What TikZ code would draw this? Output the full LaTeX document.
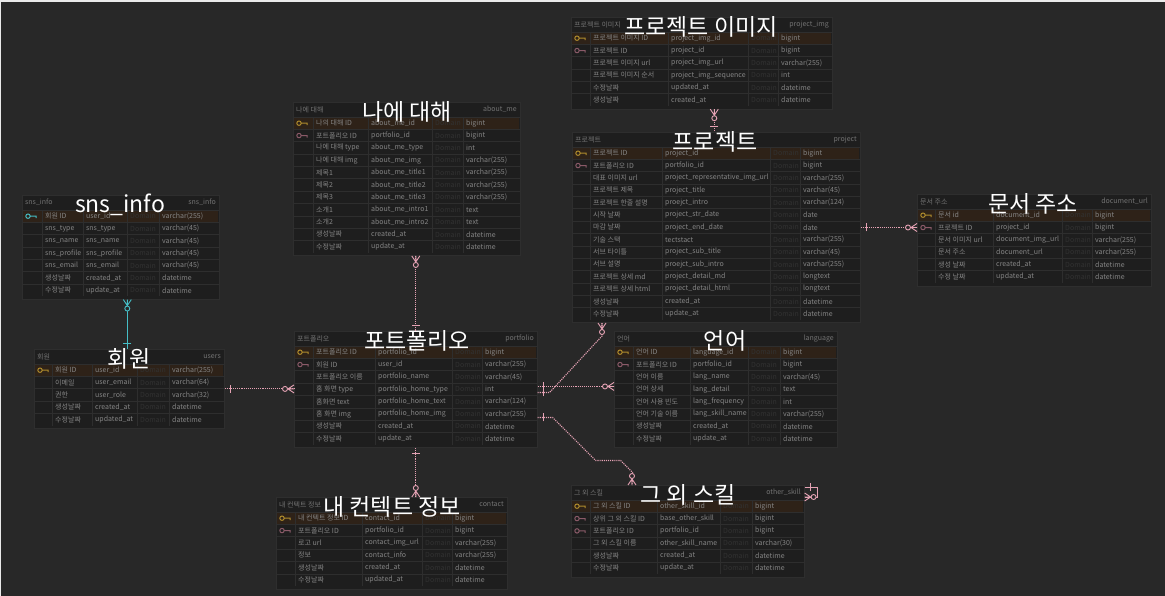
\documentclass[tikz,border=0pt]{standalone}
\usepackage{fontspec}
\setmainfont{Noto Sans CJK KR}

\definecolor{bgcol}{HTML}{282828}
\definecolor{tabcol}{HTML}{1E1E1E}
\definecolor{gridcol}{HTML}{2E2E2E}
\definecolor{pkrow}{HTML}{2E2218}
\definecolor{txtcol}{HTML}{858585}
\definecolor{domcol}{HTML}{323232}
\definecolor{relpink}{HTML}{E5A2B4}
\definecolor{relteal}{HTML}{45BEC6}
\definecolor{pkgold}{HTML}{B08C2C}
\definecolor{fkrose}{HTML}{8A5A68}
\definecolor{framecol}{HTML}{EAEAEA}

\def\erdsplit#1,#2,#3,#4;{\def\tL{#1}\def\tT{#2}\def\tR{#3}\def\tN{#4}}
\def\erdcols#1,#2,#3,#4;{\def\cA{#1}\def\cB{#2}\def\cC{#3}\def\cD{#4}}
\def\kp{p}\def\kf{f}\def\kt{t}

\newcommand{\keyicon}[2]{\draw[line width=1pt,#2] (#1) ++(-2,0) circle (2.2) ++(2.2,0) -- ++(6,0) -- ++(0,2);}

% #1 name, #2 left,top,right,rows, #3 column lines, #4 title x, #5/#6 header, #7 title, #8 rows
\newcommand{\erdtable}[8]{%
  \erdsplit#2;\erdcols#3;%
  \pgfmathsetmacro\tW{\tR-\tL}%
  \pgfmathsetmacro\tH{17.5+\tN*12.35}%
  \pgfmathsetmacro\tB{\tT+\tH}%
  \node[tablebox,minimum width=\tW pt,minimum height=\tH pt,anchor=north west] (#1) at (\tL,\tT) {};
  \node[headtext,anchor=west] at (\tL+3,\tT+7.5) {#5};
  \node[headtext,anchor=east] at (\tR-3,\tT+7.5) {#6};
  \foreach \kk/\kr/\cn/\ty [count=\i] in {#8}{
    \pgfmathsetmacro\rt{\tT+15+(\i-1)*12.35}
    \pgfmathsetmacro\ry{\rt+6.2}
    \ifnum\i=1 \fill[pkrow] (\tL+1,\rt) rectangle (\tR-1,\rt+12.35); \fi
    \draw[gridline] (\tL,\rt) -- (\tR,\rt);
    \ifx\kk\kp \keyicon{\tL+8,\ry}{pkgold}\fi
    \ifx\kk\kf \keyicon{\tL+8,\ry}{fkrose}\fi
    \ifx\kk\kt \keyicon{\tL+8,\ry}{relteal}\fi
    \node[celltext] at (\cA+3,\ry) {\kr};
    \node[celltext] at (\cB+3,\ry) {\cn};
    \node[celltext,text=domcol] at (\cC+3,\ry) {Domain};
    \node[celltext] at (\cD+3,\ry) {\ty};
  }
  \draw[gridline] (\cA,\tT+15) -- (\cA,\tB-2.5) (\cB,\tT+15) -- (\cB,\tB-2.5)
                  (\cC,\tT+15) -- (\cC,\tB-2.5) (\cD,\tT+15) -- (\cD,\tB-2.5);
  \node[bigtitle] at (#4,\tT+10) {#7};
}

\newcommand{\relone}[3][relpink]{\draw[relmark,#1,shift={(#2)},rotate=#3] (-6,-4) -- (-6,4);}
\newcommand{\relmany}[3][relpink]{\draw[relmark,#1,shift={(#2)},rotate=#3] (0,-4) -- (-6,0) -- (0,4) (0,0) -- (-6,0); \filldraw[relmark,#1,fill=bgcol,shift={(#2)},rotate=#3] (-9,0) circle (2.5);}

\begin{document}
\catcode`\_=12
\begin{tikzpicture}[x=1pt, y=-1pt,
   tablebox/.style={draw=gridcol, fill=tabcol, line width=0.6pt, inner sep=0pt},
   gridline/.style={draw=gridcol, line width=0.5pt},
   headtext/.style={inner sep=0pt, text=txtcol!115, font=\fontsize{7}{8}\selectfont},
   celltext/.style={anchor=west, inner sep=0pt, text=txtcol, font=\fontsize{7}{8}\selectfont},
   bigtitle/.style={inner sep=0pt, text=white, font=\fontsize{23}{26}\selectfont},
   relline/.style={draw=relpink, densely dotted, line width=1.1pt},
   relmark/.style={draw=relpink, solid, line width=0.9pt}]
   \useasboundingbox (0,0) rectangle (1165,596);
   \fill[bgcol] (0,0) rectangle (1165,596);
   \fill[framecol] (0,0) rectangle (1165,2);
   \fill[framecol] (0,0) rectangle (1,596);

   \erdtable{projimg}{571,17,832,6}{590,668,748,778}{701}{프로젝트 이미지}{project_img}{프로젝트 이미지}{%
      p/프로젝트 이미지 ID/project_img_id/bigint,%
      f/프로젝트 ID/project_id/bigint,%
      n/프로젝트 이미지 url/project_img_url/varchar(255),%
      n/프로젝트 이미지 순서/project_img_sequence/int,%
      n/수정날짜/updated_at/datetime,%
      n/생성날짜/created_at/datetime}
   \erdtable{aboutme}{293,102,520,11}{313,368,432,463}{407}{나에 대해}{about_me}{나에 대해}{%
      p/나의 대해 ID/about_me_id/bigint,%
      f/포트폴리오 ID/portfolio_id/bigint,%
      n/나에 대해 type/about_me_type/int,%
      n/나에 대해 img/about_me_img/varchar(255),%
      n/제목1/about_me_title1/varchar(255),%
      n/제목2/about_me_title2/varchar(255),%
      n/제목3/about_me_title3/varchar(255),%
      n/소개1/about_me_intro1/text,%
      n/소개2/about_me_intro2/text,%
      n/생성날짜/created_at/datetime,%
      n/수정날짜/update_at/datetime}
   \erdtable{project}{572,132,860,14}{590,662,770,800}{715}{프로젝트}{project}{프로젝트}{%
      p/프로젝트 ID/project_id/bigint,%
      f/포트폴리오 ID/portfolio_id/bigint,%
      n/대표 이미지 url/project_representative_img_url/varchar(255),%
      n/프로젝트 제목/project_title/varchar(45),%
      n/프로젝트 한줄 설명/proejct_intro/varchar(124),%
      n/시작 날짜/project_str_date/date,%
      n/마감 날짜/project_end_date/date,%
      n/기술 스택/tectstact/varchar(255),%
      n/서브 타이틀/project_sub_title/varchar(45),%
      n/서브 설명/proejct_sub_intro/varchar(255),%
      n/프로젝트 상세 md/project_detail_md/longtext,%
      n/프로젝트 상세 html/project_detail_html/longtext,%
      n/생성날짜/created_at/datetime,%
      n/수정날짜/update_at/datetime}
   \erdtable{docurl}{917,194,1151,6}{935,993,1062,1092}{1033}{문서 주소}{document_url}{문서 주소}{%
      p/문서 id/document_id/bigint,%
      f/프로젝트 ID/project_id/bigint,%
      n/문서 이미지 url/document_img_url/varchar(255),%
      n/문서 주소/document_url/varchar(255),%
      n/생성 날짜/created_at/datetime,%
      n/수정 날짜/updated_at/datetime}
   \erdtable{snsinfo}{22,195,219,7}{42,83,127,159}{120}{sns_info}{sns_info}{sns_info}{%
      t/회원 ID/user_id/varchar(255),%
      n/sns_type/sns_type/varchar(45),%
      n/sns_name/sns_name/varchar(45),%
      n/sns_profile/sns_profile/varchar(45),%
      n/sns_email/sns_email/varchar(45),%
      n/생성날짜/created_at/datetime,%
      n/수정날짜/update_at/datetime}
   \erdtable{users}{34,349,224,5}{52,92,137,169}{129}{회원}{users}{회원}{%
      p/회원 ID/user_id/varchar(255),%
      n/이메일/user_email/varchar(64),%
      n/권한/user_role/varchar(32),%
      n/생성날짜/created_at/datetime,%
      n/수정날짜/updated_at/datetime}
   \erdtable{portfolio}{294,331,537,8}{313,375,452,482}{417}{포트폴리오}{portfolio}{포트폴리오}{%
      p/포트폴리오 ID/portfolio_id/bigint,%
      f/회원 ID/user_id/varchar(255),%
      n/포트폴리오 이름/portfolio_name/varchar(45),%
      n/홈 화면 type/portfolio_home_type/int,%
      n/홈화면 text/portfolio_home_text/varchar(124),%
      n/홈 화면 img/portfolio_home_img/varchar(255),%
      n/생성날짜/created_at/datetime,%
      n/수정날짜/update_at/datetime}
   \erdtable{language}{614,331,837,8}{633,690,748,780}{725}{언어}{language}{언어}{%
      p/언어 ID/language_id/bigint,%
      f/포트폴리오 ID/portfolio_id/bigint,%
      n/언어 이름/lang_name/varchar(45),%
      n/언어 상세/lang_detail/text,%
      n/언어 사용 빈도/lang_frequency/int,%
      n/언어 기술 이름/lang_skill_name/varchar(255),%
      n/생성날짜/created_at/datetime,%
      n/수정날짜/update_at/datetime}
   \erdtable{contact}{276,497,507,6}{295,362,422,452}{392}{내 컨텍트 정보}{contact}{내 컨텍트 정보}{%
      p/내 컨텍트 정보 ID/contact_id/bigint,%
      f/포트폴리오 ID/portfolio_id/bigint,%
      n/로고 url/contact_img_url/varchar(255),%
      n/정보/contact_info/varchar(255),%
      n/생성날짜/created_at/datetime,%
      n/수정날짜/updated_at/datetime}
   \erdtable{otherskill}{571,485,804,6}{590,657,720,752}{688}{그 외 스킬}{other_skill}{그 외 스킬}{%
      p/그 외 스킬 ID/other_skill_id/bigint,%
      f/상위 그 외 스킬 ID/base_other_skill/bigint,%
      f/포트폴리오 ID/portfolio_id/bigint,%
      n/그 외 스킬 이름/other_skill_name/varchar(30),%
      n/생성날짜/created_at/datetime,%
      n/수정날짜/update_at/datetime}

   \coordinate (pj-top)  at ([xshift=-2pt]project.north);
   \coordinate (img-bot) at (pj-top |- projimg.south);
   \coordinate (doc-in)  at (project.east -| docurl.west);
   \coordinate (usr-top) at ([xshift=-2pt]users.north);
   \coordinate (sns-bot) at (usr-top |- snsinfo.south);
   \coordinate (pf-usr)  at (users.east -| portfolio.west);
   \coordinate (am-bot)  at (portfolio.north |- aboutme.south);
   \coordinate (ct-top)  at (portfolio.south |- contact.north);
   \coordinate (pf-lang) at ([yshift=3pt]portfolio.east);
   \coordinate (lang-in) at (pf-lang -| language.west);
   \coordinate (pf-pj)   at ([yshift=-3pt]portfolio.east);
   \coordinate (pj-bot)  at ([xshift=30pt]project.south west);
   \coordinate (pf-os)   at ([yshift=-28pt]portfolio.east);
   \coordinate (os-top)  at ([xshift=61pt]otherskill.north west);
   \coordinate (os-a)    at ([yshift=-2pt]otherskill.north east);
   \coordinate (os-b)    at ([yshift=-12pt]otherskill.north east);

   \draw[relline] (img-bot) -- (pj-top);
   \draw[relline] (project.east) -- (doc-in);
   \draw[relteal, line width=1pt] (sns-bot) -- (usr-top);
   \draw[relline] (users.east) -- (pf-usr);
   \draw[relline] (am-bot) -- (portfolio.north);
   \draw[relline] (portfolio.south) -- (ct-top);
   \draw[relline] (pf-lang) -- (lang-in);
   \draw[relline] (pf-pj) -- ++(12,0) -- ([yshift=-13pt]pj-bot) -- (pj-bot);
   \draw[relline] (pf-os) -- ++(15,0) -- ++(43,43) -- ++(25,0) -- ++(12,12) -- (os-top);
   \draw[relmark] (os-a) -- ++(13,0) -- ++(0,10) -- (os-b);

   \relmany{img-bot}{90}         \relone{pj-top}{-90}
   \relone{project.east}{180}    \relmany{doc-in}{0}
   \relmany[relteal]{sns-bot}{90} \relone[relteal]{usr-top}{-90}
   \relone{users.east}{180}      \relmany{pf-usr}{0}
   \relmany{am-bot}{90}          \relone{portfolio.north}{-90}
   \relone{portfolio.south}{90}  \relmany{ct-top}{-90}
   \relone{pf-lang}{180}         \relmany{lang-in}{0}
   \relone{pf-pj}{180}           \relmany{pj-bot}{90}
   \relone{pf-os}{180}           \relmany{os-top}{-90}
   \relone{os-a}{180}            \relmany{os-b}{180}
\end{tikzpicture}
\end{document}
